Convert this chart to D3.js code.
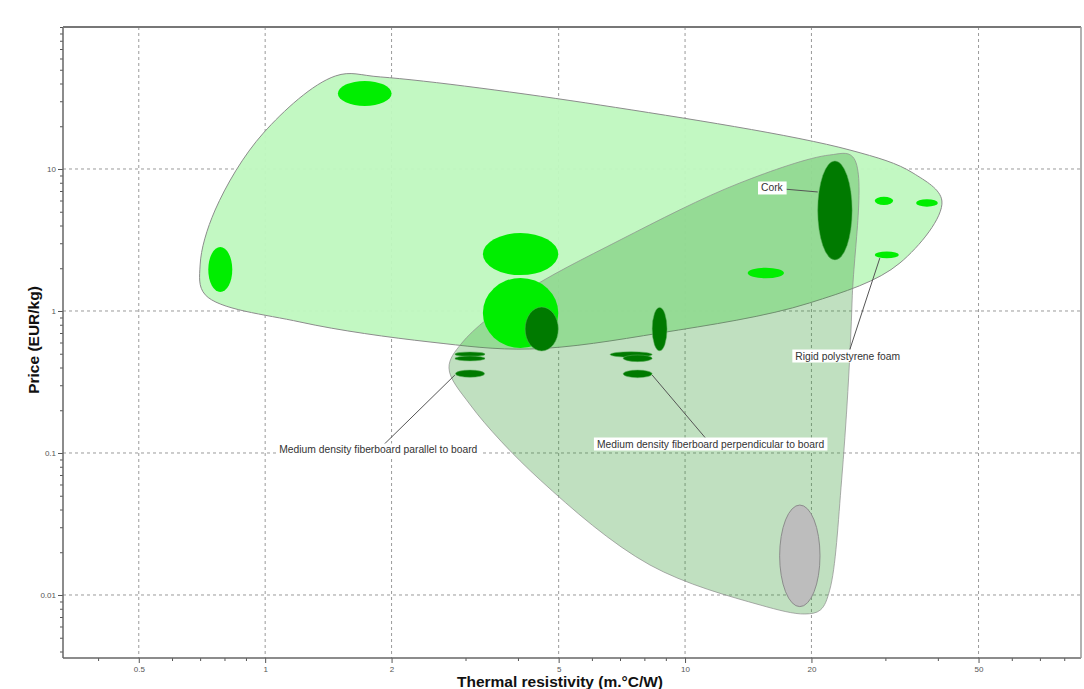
<!DOCTYPE html>
<html lang="en">
<head>
<meta charset="UTF-8" />
<title>Price vs Thermal resistivity</title>
<script src="https://d3js.org/d3.v7.min.js"></script>
<style>
  body { margin:0; padding:0; background:#fff; font-family:"Liberation Sans", Arial, sans-serif; }
  svg { display:block; }
  .ticklab { font-size:8px; fill:#555; }
  .title { font-size:15.5px; font-weight:bold; fill:#111; }
  .note { font-size:10.3px; fill:#333; }
</style>
</head>
<body>
<svg width="1084" height="689"></svg>
<script>
// axis ranges (data units)
const xDomain = [0.33, 87.7];
const yDomain = [0.0036, 100];
const xMajor = [0.5, 1, 2, 5, 10, 20, 50];
const yMajor = [0.01, 0.1, 1, 10];

// envelope outlines, [thermal resistivity, price]
const lightHull = [
  [0.72,1.30],[1.21,0.837],[2.47,0.605],[4.27,0.54],[8.72,0.70],[19.8,1.14],
  [32.5,2.18],[40.9,5.95],[34.9,9.37],[24.7,13.6],[6.28,28.2],[1.88,44.5],
  [1.47,45.2],[0.99,17.9],[0.76,5.14],[0.70,2.11]
];
const darkHull = [
  [2.74,0.397],[2.94,0.595],[4.05,1.30],[7.0,3.16],[13.5,7.97],[22.1,12.55],
  [25.1,12.15],[25.0,1.195],[23.6,0.0645],[22.1,0.0108],[21.0,0.00784],
  [19.3,0.00735],[15.1,0.0085],[8.25,0.01626],[4.52,0.0645],[3.08,0.218]
];

// material bubbles: x range, y range, kind
const bubbleX = [
  [1.49,2.0],[0.732,0.835],[3.30,4.99],[3.30,4.99],[4.16,4.99],[8.35,9.06],
  [6.63,8.35],[7.12,8.35],[7.12,8.35],[2.83,3.34],[2.83,3.34],[2.84,3.33],
  [20.7,25.0],[28.3,31.3],[35.5,40.0],[28.3,32.3],[14.1,17.2],[16.8,20.96]
];
const bubbleY = [
  [27.8,41.7],[1.36,2.82],[1.79,3.54],[0.549,1.71],[0.523,1.067],[0.525,1.06],
  [0.472,0.517],[0.44,0.49],[0.339,0.384],[0.478,0.515],[0.445,0.482],[0.341,0.384],
  [2.29,11.4],[5.58,6.38],[5.43,6.12],[2.35,2.62],[1.70,2.02],[0.00828,0.043]
];
const bubbleKind = [
  "light","light","light","light","dark","dark",
  "dark","dark","dark","dark","dark","dark",
  "dark","light","light","light","light","gray"
];

// annotations: label text, label position, leader target
const noteText = ["Cork","Rigid polystyrene foam",
  "Medium density fiberboard parallel to board",
  "Medium density fiberboard perpendicular to board"];
const notePos = [[16.1,7.35],[24.4,0.482],[1.86,0.105],[11.5,0.1157]];
const noteTarget = [[20.7,6.89],[29.1,2.36],[2.83,0.354],[8.35,0.354]];

const kindFill = { light:"#00ee00", dark:"#007a00", gray:"#bdbdbd" };

const svg = d3.select("svg");
const L = 63, R = 1081, T = 27, B = 658;
const x = d3.scaleLog().domain(xDomain).range([L, R]);
const y = d3.scaleLog().domain(yDomain).range([B, T]);

// minor tick lists
const minor = (lo, hi) => {
  const out = [];
  for (let e = -4; e <= 3; e++) for (let m = 1; m <= 9; m++) {
    const v = +(m * Math.pow(10, e)).toPrecision(3);
    if (v >= lo && v <= hi) out.push(v);
  }
  return out;
};
const xTicks = minor(xDomain[0], xDomain[1]);
const yTicks = minor(yDomain[0], yDomain[1]);
const isMajorX = v => xMajor.some(m => Math.abs(m - v) < 1e-9);
const isMajorY = v => yMajor.some(m => Math.abs(m - v) < 1e-9);

// grid
const grid = svg.append("g");
grid.selectAll(".gx").data(xMajor).enter().append("line")
  .attr("x1", d => x(d)).attr("x2", d => x(d)).attr("y1", T).attr("y2", B)
  .attr("stroke", "#9a9a9a").attr("stroke-dasharray", "3,3");
grid.selectAll(".gy").data(yMajor).enter().append("line")
  .attr("y1", d => y(d)).attr("y2", d => y(d)).attr("x1", L).attr("x2", R)
  .attr("stroke", "#9a9a9a").attr("stroke-dasharray", "3,3");

// envelopes
const hull = d3.line().x(d => x(d[0])).y(d => y(d[1]))
  .curve(d3.curveCatmullRomClosed.alpha(0.5));
svg.append("path").attr("d", hull(lightHull))
  .attr("fill", "#bff8bf").attr("fill-opacity", 0.95)
  .attr("stroke", "#8c8c8c").attr("stroke-width", 1);
svg.append("path").attr("d", hull(darkHull))
  .attr("fill", "rgb(45,152,45)").attr("fill-opacity", 0.3)
  .attr("stroke", "#8c8c8c").attr("stroke-opacity", 0.7).attr("stroke-width", 1);

// bubbles
const bubbles = bubbleX.map((bx, i) => ({ bx, by: bubbleY[i], kind: bubbleKind[i] }));
svg.append("g").selectAll("ellipse").data(bubbles).enter().append("ellipse")
  .attr("cx", d => (x(d.bx[0]) + x(d.bx[1])) / 2)
  .attr("cy", d => (y(d.by[0]) + y(d.by[1])) / 2)
  .attr("rx", d => (x(d.bx[1]) - x(d.bx[0])) / 2)
  .attr("ry", d => (y(d.by[0]) - y(d.by[1])) / 2)
  .attr("fill", d => kindFill[d.kind])
  .attr("stroke", d => d.kind === "gray" ? "#8c8c8c" : (d.kind === "dark" ? "#5fae5f" : "none"))
  .attr("stroke-width", d => d.kind === "dark" ? 0.5 : 1);

// annotations
const notes = noteText.map((t, i) => ({ t, p: notePos[i], q: noteTarget[i] }));
const ng = svg.append("g");
ng.selectAll("line").data(notes).enter().append("line")
  .attr("x1", d => x(d.p[0])).attr("y1", d => y(d.p[1]))
  .attr("x2", d => x(d.q[0])).attr("y2", d => y(d.q[1]))
  .attr("stroke", "#555").attr("stroke-width", 1);
const lab = ng.selectAll(".lab").data(notes).enter().append("g");
lab.append("text").attr("class", "note")
  .attr("x", d => x(d.p[0])).attr("y", d => y(d.p[1]) + 3.5)
  .attr("text-anchor", "middle").text(d => d.t);
lab.each(function() {
  const g = d3.select(this), bb = g.select("text").node().getBBox();
  g.insert("rect", "text").attr("x", bb.x - 3).attr("y", bb.y - 1)
    .attr("width", bb.width + 6).attr("height", bb.height + 2)
    .attr("fill", "#fff");
});

// axes
const xAxis = svg.append("g").attr("transform", `translate(0,${B})`)
  .call(d3.axisBottom(x).tickValues(xTicks).tickSize(5).tickPadding(3)
    .tickFormat(v => isMajorX(v) ? d3.format("~g")(v) : ""));
xAxis.selectAll(".tick line").attr("y2", v => isMajorX(v) ? 5 : 3).attr("stroke", "#555");
const yAxis = svg.append("g").attr("transform", `translate(${L},0)`)
  .call(d3.axisLeft(y).tickValues(yTicks).tickSize(5).tickPadding(2)
    .tickFormat(v => isMajorY(v) ? d3.format("~g")(v) : ""));
yAxis.selectAll(".tick line").attr("x2", v => isMajorY(v) ? -5 : -3).attr("stroke", "#555");
[xAxis, yAxis].forEach(a => {
  a.select(".domain").remove();
  a.selectAll(".tick text").attr("class", "ticklab").attr("font-family", null).attr("font-size", null);
});

// frame
svg.append("line").attr("x1", L).attr("x2", L).attr("y1", T).attr("y2", B)
  .attr("stroke", "#666").attr("stroke-width", 1.5);
svg.append("line").attr("x1", L).attr("x2", R).attr("y1", B).attr("y2", B)
  .attr("stroke", "#666").attr("stroke-width", 1.5);
svg.append("line").attr("x1", L).attr("x2", R).attr("y1", T).attr("y2", T)
  .attr("stroke", "#777").attr("stroke-width", 2);
svg.append("line").attr("x1", R).attr("x2", R).attr("y1", T).attr("y2", B)
  .attr("stroke", "#999").attr("stroke-width", 1.5);

// titles
svg.append("text").attr("class", "title").attr("x", 560).attr("y", 686.5)
  .attr("text-anchor", "middle").text("Thermal resistivity (m.°C/W)");
svg.append("text").attr("class", "title")
  .attr("transform", "translate(39,340) rotate(-90)")
  .attr("text-anchor", "middle").text("Price (EUR/kg)");
</script>
</body>
</html>
